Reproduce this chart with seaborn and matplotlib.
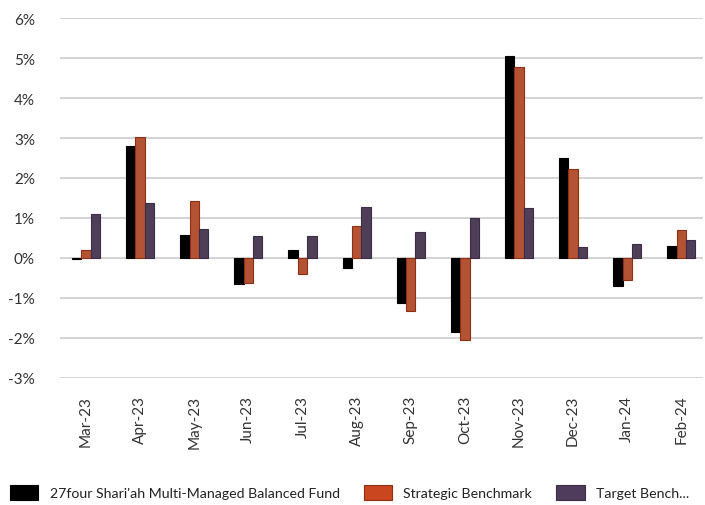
import matplotlib
matplotlib.use("Agg")
import matplotlib.pyplot as plt
from matplotlib.patches import Patch
from matplotlib.ticker import FuncFormatter
import numpy as np
import pandas as pd
import seaborn as sns

months = ["Mar-23", "Apr-23", "May-23", "Jun-23", "Jul-23", "Aug-23",
          "Sep-23", "Oct-23", "Nov-23", "Dec-23", "Jan-24", "Feb-24"]
series_names = ["27four Shari'ah Multi-Managed Balanced Fund",
                "Strategic Benchmark", "Target Bench..."]
fund = [-0.03, 2.79, 0.57, -0.65, 0.19, -0.26, -1.12, -1.86, 5.04, 2.51, -0.71, 0.31]
strategic = [0.19, 3.03, 1.43, -0.63, -0.40, 0.81, -1.33, -2.04, 4.77, 2.23, -0.54, 0.69]
target = [1.10, 1.37, 0.72, 0.54, 0.54, 1.27, 0.64, 0.99, 1.25, 0.27, 0.36, 0.44]

colors = ["#000000", "#C9461F", "#4F3B5B"]
edges = ["#000000", "#8E2E12", "#3D2C47"]

df = pd.DataFrame({
    "month": months * 3,
    "series": np.repeat(series_names, len(months)),
    "value": fund + strategic + target,
})

sns.set_style("white")
plt.rcParams["font.family"] = ["Lato", "DejaVu Sans"]

fig = plt.figure(figsize=(7.05, 5.06), dpi=100)
ax = fig.add_axes([60 / 705, 1 - 379 / 506, 643 / 705, 360 / 506])

sns.barplot(data=df, x="month", y="value", hue="series", palette=colors,
            width=0.52, ax=ax, legend=False, zorder=3, errorbar=None)

# colour the bar edges per series
for cont, ec in zip(ax.containers, edges):
    for bar in cont:
        bar.set_edgecolor(ec)
        bar.set_linewidth(0.8)

ax.set_ylim(-3, 6)
ax.set_yticks(range(-3, 7))
ax.yaxis.set_major_formatter(FuncFormatter(lambda v, p: f"{int(v)}%"))
ax.grid(axis="y", color="#CCCCCC", linewidth=1.2, zorder=0)
ax.set_axisbelow(True)
for s in ax.spines.values():
    s.set_visible(False)
ax.set_xlabel("")
ax.set_ylabel("")
ax.tick_params(axis="x", labelrotation=90, labelsize=11, colors="#333333", length=0, pad=12)
ax.tick_params(axis="y", labelsize=11, colors="#333333", length=0, pad=18)
ax.set_xlim(-0.48, 11.4)

handles = [Patch(facecolor=c, edgecolor=e, linewidth=0.8) for c, e in zip(colors, edges)]
fig.legend(handles, series_names, loc="lower left", bbox_to_anchor=(-0.004, -0.016),
           ncol=3, frameon=False, fontsize=10.2, handlelength=2.0, handleheight=1.3,
           columnspacing=1.7, handletextpad=0.8, labelcolor="#222222")

fig.savefig("out.png", dpi=100)
